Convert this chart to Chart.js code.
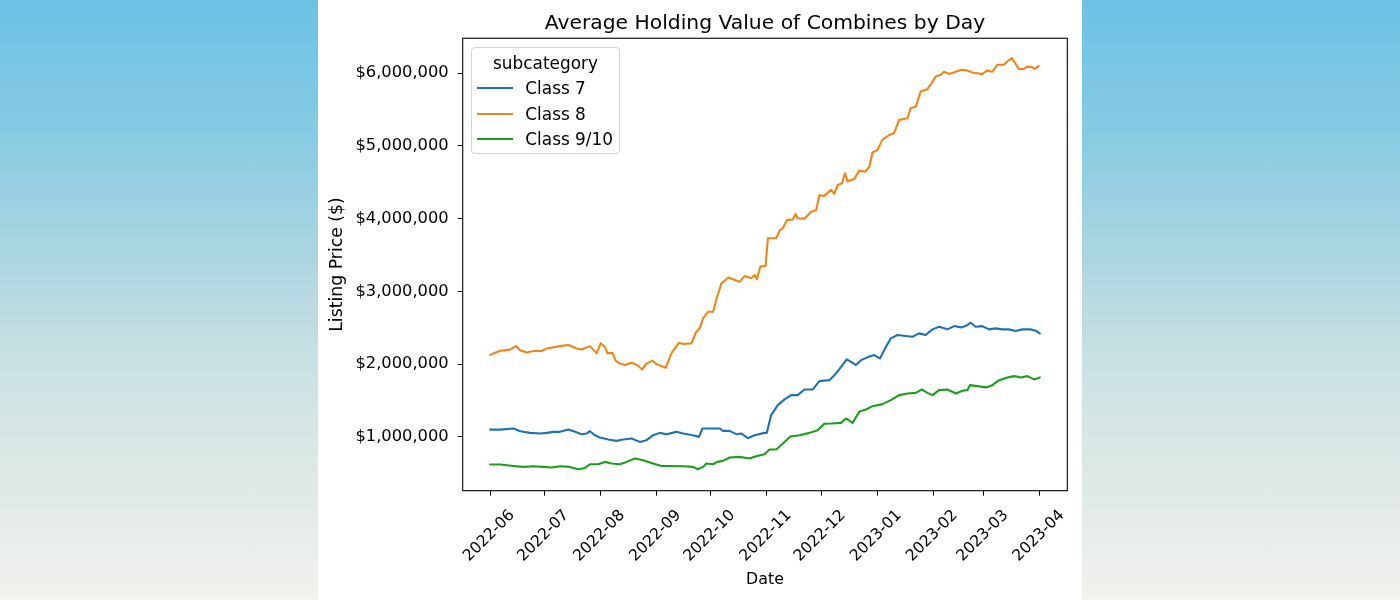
<!DOCTYPE html>
<html><head><meta charset="utf-8">
<script src="https://cdn.jsdelivr.net/npm/chart.js@4.4.1/dist/chart.umd.min.js"></script>
<style>
html,body{margin:0;padding:0;width:1400px;height:600px;overflow:hidden;}
body{background:linear-gradient(to bottom,#6cc2e4 0%,#86cbe4 22%,#abd5df 42%,#c9e1e2 60%,#dde8e6 78%,#f2f2ee 100%);font-family:"DejaVu Sans",sans-serif;}
#panel{position:absolute;left:318px;top:0;width:764px;height:600px;background:#fff;}
#c{position:absolute;left:0;top:0;width:764px;height:600px;}
#legend{position:absolute;left:153.3px;top:46.7px;width:148.4px;height:107.3px;border:1px solid #d4d4d4;border-radius:4px;background:rgba(255,255,255,0.8);box-sizing:border-box;font-family:"DejaVu Sans",sans-serif;font-size:16.9px;color:#000;}
#legend .ttl{position:absolute;left:0;right:0;top:5px;height:20px;line-height:20px;text-align:center;}
#legend .row{position:absolute;left:0;right:0;height:20px;line-height:20px;}
#legend .sw{position:absolute;left:4.5px;width:36.7px;height:2.2px;top:9px;}
#legend .lb{position:absolute;left:53px;top:0;white-space:nowrap;}
</style>
</head>
<body>
<div id="panel">
<canvas id="c" width="764" height="600"></canvas>
<div id="legend"></div>
</div>
<script>
// Days since 2022-06-01, values in thousands of dollars
const class7Days = [0,5.5,12.9,16.6,22,27.6,31.3,35,38.6,43.2,47,50.6,53.4,55.2,58,60.7,65.3,69.9,73.5,78.2,82.8,86.5,90.1,93.8,97.5,103,106.7,112.2,115.5,117.4,123.3,127,128.7,132.4,136.1,138.8,142.5,146.2,151.7,153,155.4,159.1,162.8,166.5,170.1,173.8,178.4,182.1,187.6,191.3,194.1,197.2,199.6,202.3,205.1,208.7,212.4,215.6,218.9,221.6,225.3,229.9,233.6,237.2,240.9,244.6,248.3,252.9,256.6,260.3,263,265.8,268.5,272.2,275.9,279.5,283.2,286.9,290.6,294.3,298.9,301.7,304];
const class7Values = [1100,1100,1115,1078,1055,1047,1055,1069,1069,1100,1069,1037,1047,1078,1023,990,964,945,964,978,931,955,1023,1055,1037,1069,1047,1023,1000,1115,1115,1115,1083,1083,1037,1047,982,1023,1055,1055,1300,1436,1515,1574,1574,1652,1652,1766,1780,1872,1963,2065,2032,1987,2055,2093,2124,2078,2238,2354,2400,2386,2376,2423,2400,2478,2514,2478,2523,2505,2523,2569,2514,2523,2478,2492,2478,2478,2455,2478,2478,2459,2423];

const class8Days = [0,1.8,5.5,11,14.3,16.5,20.2,23.9,28.5,31.3,38.6,43.2,47.8,50.6,55.2,58.9,61.1,63.4,64.9,67.7,69.5,71.7,74.5,78.2,81.3,84.1,86.5,89.8,92,97.1,100.2,104.4,106.7,111.3,114,115.9,117.8,120.5,123.3,125.5,127.9,131.6,134.3,138,140.7,144.4,146.2,147.5,149.4,152.3,153.6,158.2,160,161.9,164.1,167.4,168.9,170.2,173.8,177.5,180.3,182.1,184.5,188.6,190.3,192.2,194.6,196.2,197.7,201.4,204.1,207.5,209.7,211.5,214.2,216.9,220.7,223.4,226.2,230.8,232.6,235.4,238.1,241.8,244.2,246.4,249.2,251,253.8,257.5,261.1,263.9,266.7,269.4,272.2,274.9,277.7,280.5,284.1,286,288.4,290.6,292.4,295.2,297,299.8,301.2,303.4];
const class8Values = [2124,2147,2183,2200,2248,2190,2160,2180,2180,2216,2248,2262,2216,2200,2248,2148,2285,2239,2148,2156,2046,2010,1987,2018,1987,1927,2010,2046,2000,1950,2148,2293,2276,2285,2445,2490,2630,2720,2720,2927,3110,3190,3166,3133,3210,3180,3225,3166,3340,3350,3730,3730,3835,3868,3980,3990,4065,4005,4000,4096,4120,4326,4310,4395,4340,4464,4487,4625,4510,4546,4660,4645,4715,4910,4945,5083,5150,5175,5358,5380,5520,5540,5747,5780,5863,5954,5977,6020,5990,6020,6046,6037,6010,6000,5987,6037,6020,6115,6115,6160,6206,6130,6057,6057,6090,6083,6057,6100];

const class910Days = [0,5.5,12.9,18.4,23.9,29.4,34,38.6,44.1,48.7,52.4,55.2,59.8,63.4,67.1,71.7,75.4,80,84.6,90.1,94.7,100.2,106.7,112.2,114.9,117.7,119.6,123.3,125.5,128.7,132.4,137.9,143.4,147.1,151.7,154.5,158.2,161.9,166,171,176.6,181.1,184.8,188.5,194,196.8,200.5,204.1,207.8,211.5,217,221.6,226.2,230.8,235.4,238.7,241.8,244.6,248.3,252.9,257.6,261.2,264,265.3,269.5,274.1,277.8,281.5,286.1,289.8,293.5,297.1,300.8,304];
const class910Values = [620,620,600,587,597,587,579,597,587,555,573,624,624,656,634,624,656,703,679,634,600,600,597,587,555,587,634,624,656,670,716,725,703,734,762,827,827,909,1005,1023,1055,1092,1180,1184,1193,1253,1193,1344,1377,1422,1450,1505,1574,1597,1605,1652,1605,1574,1643,1652,1597,1633,1643,1711,1698,1680,1711,1780,1817,1835,1817,1835,1790,1817];

const seriesNames = ['Class 7','Class 8','Class 9/10'];
const seriesColors = ['#1f72b2','#f0861a','#1c9e1c'];

const xTickDays = [0,30,61,92,122,153,183,214,245,273,304];
const xTickLabels = ['2022-06','2022-07','2022-08','2022-09','2022-10','2022-11','2022-12','2023-01','2023-02','2023-03','2023-04'];
const yTickValues = [1000000,2000000,3000000,4000000,5000000,6000000];

const titleText = 'Average Holding Value of Combines by Day';
const xTitle = 'Date';
const yTitle = 'Listing Price ($)';
const legendTitle = 'subcategory';

function toPoints(days, vals){ return days.map((d,i)=>({x:d, y:vals[i]*1000})); }

const FONT = '"DejaVu Sans", sans-serif';

const framePlugin = {
  id:'frame',
  afterDatasetsDraw(chart){
    const {ctx, chartArea:a} = chart;
    ctx.save();
    ctx.strokeStyle = '#000';
    ctx.lineWidth = 1.1;
    ctx.strokeRect(a.left, a.top, a.right-a.left, a.bottom-a.top);
    ctx.restore();
  }
};

const chart = new Chart(document.getElementById('c'), {
  type:'line',
  data:{
    datasets:[
      {label:seriesNames[0], data:toPoints(class7Days,class7Values), borderColor:seriesColors[0], backgroundColor:seriesColors[0]},
      {label:seriesNames[1], data:toPoints(class8Days,class8Values), borderColor:seriesColors[1], backgroundColor:seriesColors[1]},
      {label:seriesNames[2], data:toPoints(class910Days,class910Values), borderColor:seriesColors[2], backgroundColor:seriesColors[2]}
    ]
  },
  options:{
    responsive:false,
    animation:false,
    elements:{ line:{borderWidth:2.1, tension:0, borderJoinStyle:'round', borderCapStyle:'round'}, point:{radius:0, hoverRadius:0} },
    layout:{ padding:{left:0, right:14.7, top:0, bottom:0} },
    plugins:{
      legend:{display:false},
      tooltip:{enabled:false},
      title:{display:true, fullSize:false, text:titleText, color:'#000', font:{family:FONT, size:20.3, weight:'normal'}, padding:{top:12, bottom:1.9}}
    },
    scales:{
      x:{
        type:'linear', min:-15.2, max:319.2,
        afterFit(s){ s.height = 109.3; },
        afterBuildTicks(s){ s.ticks = xTickDays.map(v=>({value:v})); },
        grid:{display:true, drawOnChartArea:false, drawTicks:true, tickLength:5, color:'#000', lineWidth:1},
        border:{display:false},
        ticks:{ autoSkip:false, minRotation:45, maxRotation:45, labelOffset:22, padding:10.5, color:'#000',
          font:{family:FONT, size:15.6},
          callback:(v,i)=>xTickLabels[i] },
        title:{display:true, text:xTitle, color:'#000', font:{family:FONT, size:15.8}, padding:{top:0, bottom:11}}
      },
      y:{
        type:'linear', min:260000, max:6480000,
        afterFit(s){ s.width = 144.7; },
        afterBuildTicks(s){ s.ticks = yTickValues.map(v=>({value:v})); },
        grid:{display:true, drawOnChartArea:false, drawTicks:true, tickLength:5, color:'#000', lineWidth:1},
        border:{display:false},
        ticks:{ padding:9, color:'#000', font:{family:FONT, size:16.3},
          callback:(v)=>'$'+Number(v).toLocaleString('en-US') },
        title:{display:true, text:yTitle, color:'#000', font:{family:FONT, size:17.3}, padding:{top:9, bottom:0}}
      }
    }
  },
  plugins:[framePlugin]
});

// HTML legend built from the chart's datasets
(function(){
  const lg = document.getElementById('legend');
  const t = document.createElement('div'); t.className='ttl'; t.textContent = legendTitle; lg.appendChild(t);
  const centers = [40.6, 66.1, 91.6];
  chart.data.datasets.forEach((ds,i)=>{
    const r = document.createElement('div'); r.className='row'; r.style.top = (centers[i]-10)+'px';
    const sw = document.createElement('div'); sw.className='sw'; sw.style.background = ds.borderColor;
    const lb = document.createElement('div'); lb.className='lb'; lb.textContent = ds.label;
    r.appendChild(sw); r.appendChild(lb); lg.appendChild(r);
  });
})();
</script>
</body></html>
